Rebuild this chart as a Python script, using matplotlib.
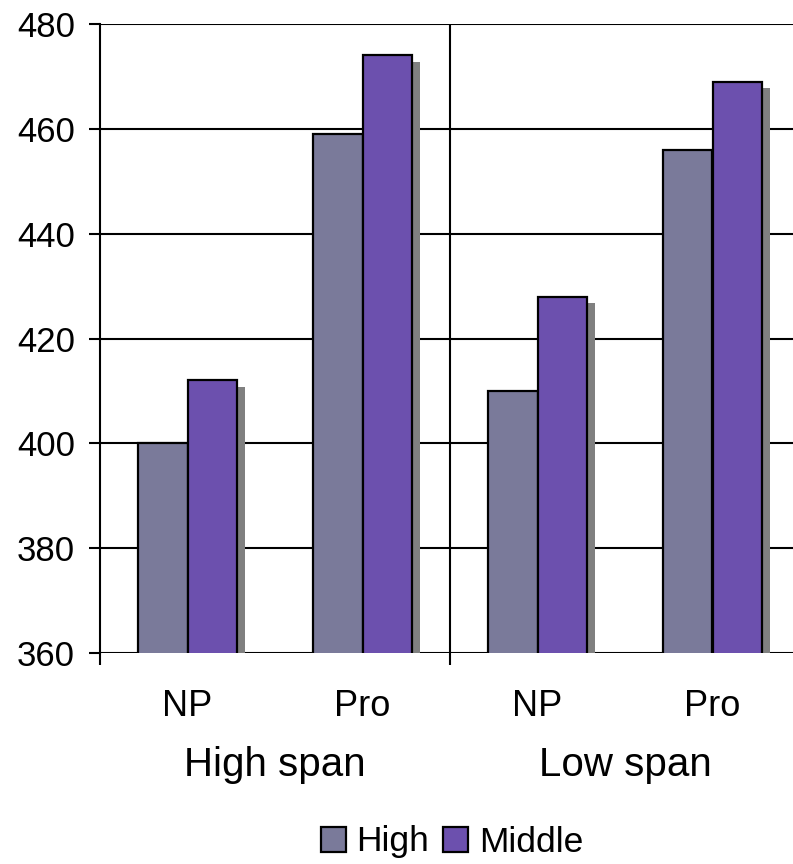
import matplotlib
matplotlib.use("Agg")
import matplotlib.pyplot as plt
import matplotlib.patheffects as pe
from matplotlib.patches import Rectangle
import numpy as np

plt.rcParams['font.family'] = ['Liberation Sans', 'DejaVu Sans']

# data
groups = ["High span", "Low span"]
conditions = ["NP", "Pro", "NP", "Pro"]
series = ["High", "Middle"]
high = [400, 459, 410, 456]
middle = [412, 474, 428, 469]

col_high = "#7a7a9a"
col_mid = "#6c50ae"
shadow = [pe.SimplePatchShadow(offset=(5.6, -4.4), shadow_rgbFace="#808080", alpha=1), pe.Normal()]

fig = plt.figure(figsize=(7.93, 8.64), dpi=100)
ax = fig.add_axes([100 / 793, 211 / 864, 700 / 793, 629 / 864])

x = np.arange(len(conditions))
w = 0.283
b1 = ax.bar(x - w / 2, high, w, color=col_high, edgecolor="black", linewidth=1.6, zorder=2)
b2 = ax.bar(x + w / 2, middle, w, color=col_mid, edgecolor="black", linewidth=1.6, zorder=3)
for bars in (b1, b2):
    for p in bars:
        p.set_path_effects(shadow)

ax.set_ylim(360, 480)
ax.set_xlim(-0.5, 3.5)
ax.set_yticks(np.arange(360, 481, 20))
ax.grid(axis="y", color="black", linewidth=1.5, zorder=0)
ax.set_axisbelow(True)
for s in ["top", "right", "bottom"]:
    ax.spines[s].set_visible(False)
ax.spines["left"].set_linewidth(1.5)

# group separator
ax.axvline(1.5, color="black", linewidth=1.5, zorder=1)
ax.set_xticks([-0.5, 1.5, 3.5], minor=True)
ax.tick_params(axis="x", which="minor", length=8.5, width=1.5, direction="out")
ax.set_xticks(x, conditions)
ax.tick_params(axis="x", which="major", length=0, pad=26, labelsize=26)
ax.tick_params(axis="y", length=8, width=1.5, pad=10, labelsize=25)

# group labels
trans = matplotlib.transforms.blended_transform_factory(ax.transData, fig.transFigure)
for i, g in enumerate(groups):
    ax.text(2 * i + 0.5, 88 / 864, g, transform=trans, ha="center", va="baseline", fontsize=29)

handles = [Rectangle((0, 0), 1, 1, facecolor=c, edgecolor="black", linewidth=1.6) for c in (col_high, col_mid)]
fig.legend(handles, series, loc="center", bbox_to_anchor=(452 / 793, 22 / 864), ncol=2, frameon=False,
           fontsize=25.5, handlelength=0.7, handleheight=0.7, handletextpad=0.3, columnspacing=0.4,
           borderpad=0, borderaxespad=0)

fig.savefig("out.png", dpi=100)
